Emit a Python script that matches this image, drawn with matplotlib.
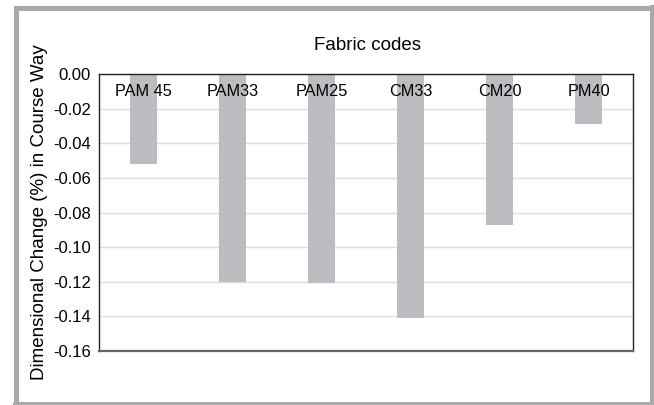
import numpy as np
import matplotlib.pyplot as plt
from matplotlib.patches import Rectangle

plt.rcParams['font.family'] = ['Liberation Sans', 'DejaVu Sans']

# data
fabric_codes = ['PAM 45', 'PAM33', 'PAM25', 'CM33', 'CM20', 'PM40']
course_change = [-0.052, -0.120, -0.121, -0.141, -0.0875, -0.029]
y_ticks = [0.00, -0.02, -0.04, -0.06, -0.08, -0.10, -0.12, -0.14, -0.16]

W, H = 654, 405
fig = plt.figure(figsize=(W / 100, H / 100), dpi=100)

# outer gray frame
frame = Rectangle((15.5 / W, 0.0), (W - 15.5) / W, (H - 7.5) / H,
                  transform=fig.transFigure, fill=False,
                  edgecolor='#a9a9ab', linewidth=3.6)
fig.patches.append(frame)
fig.patches.append(Rectangle((650 / W, 0), 4 / W, (H - 5) / H,
                             transform=fig.transFigure, color='#a9a9ab', lw=0))
fig.patches.append(Rectangle((13 / W, 0), (W - 13) / W, 3 / H,
                             transform=fig.transFigure, color='#a9a9ab', lw=0))

left, right, top, bottom = 99, 633, 74, 351
ax = fig.add_axes([left / W, 1 - bottom / H, (right - left) / W, (bottom - top) / H])

x = np.arange(len(fabric_codes))
ax.bar(x, course_change, width=0.31, color='#bcbdc1', zorder=2)

ax.set_xlim(-0.5, len(fabric_codes) - 0.5)
ax.set_ylim(-0.16, 0.0)
ax.set_yticks(y_ticks)
ax.set_yticklabels([f'{v:.2f}' for v in y_ticks], fontsize=12)
ax.yaxis.grid(True, color='#dedede', linewidth=1.0, zorder=0)
ax.set_axisbelow(True)
ax.tick_params(axis='y', length=0, pad=6)

# category labels sit just under the zero line
ax.set_xticks([])
for xi, name in zip(x, fabric_codes):
    ax.text(xi, -0.0058, name, ha='center', va='top', fontsize=11.7, zorder=3)

for s in ['top', 'right', 'left']:
    ax.spines[s].set_color('#222222')
    ax.spines[s].set_linewidth(1.0)
ax.spines['bottom'].set_color('#666666')
ax.spines['bottom'].set_linewidth(1.6)

fig.text(367 / W, 1 - 46 / H, 'Fabric codes', ha='center',
         va='center', fontsize=13.5)
fig.text(40 / W, 1 - 212 / H, 'Dimensional Change (%) in Course Way',
         rotation=90, ha='center', va='center', fontsize=13.5)

fig.savefig('out.png', dpi=100)
